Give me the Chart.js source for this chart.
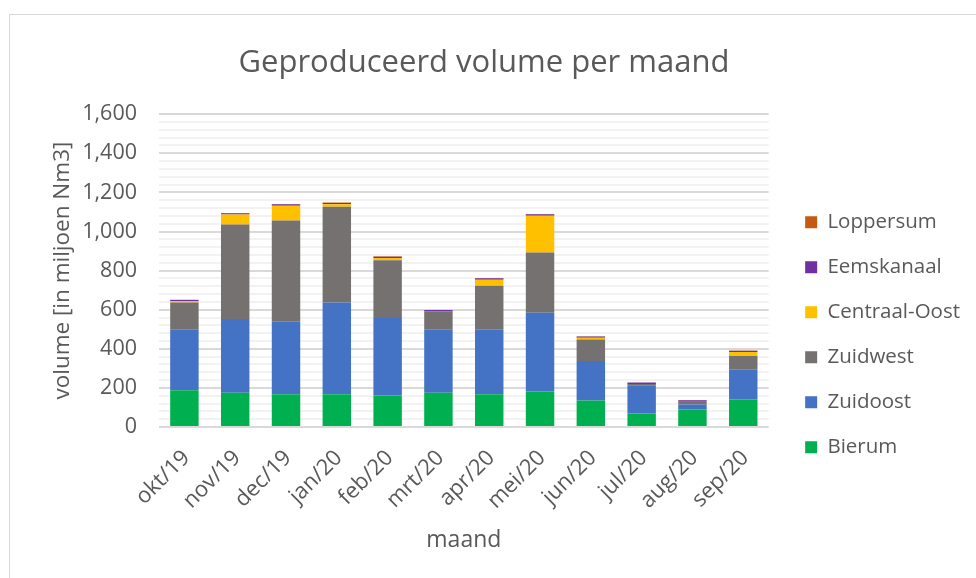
<!DOCTYPE html>
<html>
<head>
<meta charset="utf-8">
<script src="https://cdn.jsdelivr.net/npm/chart.js@4.4.1/dist/chart.umd.min.js"></script>
<style>
  html, body { margin: 0; padding: 0; background: #fff; overflow: hidden; width: 976px; height: 578px; }
  #frame { position: absolute; left: 9px; top: 14px; width: 990px; height: 600px; border: 1px solid #d9d9d9; background: #fff; }
  #wrap { position: absolute; left: 0; top: 0; width: 966px; height: 563px; }
</style>
</head>
<body>
<div id="frame"><div id="wrap"><canvas id="c" width="966" height="563"></canvas></div></div>
<script>
const categories = ['okt/19','nov/19','dec/19','jan/20','feb/20','mrt/20','apr/20','mei/20','jun/20','jul/20','aug/20','sep/20'];
const bierum       = [188, 175, 168, 168, 161, 175, 168, 181, 136,  69,  90, 141];
const zuidoost     = [310, 378, 371, 469, 397, 323, 330, 404, 201, 145,  25, 152];
const zuidwest     = [139, 483, 517, 490, 295,  94, 224, 308, 110,   6,  14,  70];
const centraalOost = [  7,  51,  76,  12,  11,   0,  31, 188,   9,   0,   0,  20];
const eemskanaal   = [  5,   6,   7,   7,   7,   6,   8,   7,   7,   7,   8,   7];
const loppersum    = [  2,   2,   2,   2,   2,   1,   1,   2,   1,   1,   1,   1];
const yMin = 0, yMax = 1600, yStep = 40, yLabelStep = 200;

const txt = '#595959';
const fam = "'Open Sans', sans-serif";

const mk = (label, data, color) => ({ label, data, backgroundColor: color, borderWidth: 0, barPercentage: 0.56, categoryPercentage: 1.0 });

const legendShift = {
  id: 'legendShift',
  afterLayout(chart) {
    const lg = chart.legend;
    if (lg) { lg.left += 12; lg.right += 12; }
  }
};

new Chart(document.getElementById('c'), {
  type: 'bar',
  data: {
    labels: categories,
    datasets: [
      mk('Bierum', bierum, '#00b050'),
      mk('Zuidoost', zuidoost, '#4472c4'),
      mk('Zuidwest', zuidwest, '#767171'),
      mk('Centraal-Oost', centraalOost, '#ffc000'),
      mk('Eemskanaal', eemskanaal, '#7030a0'),
      mk('Loppersum', loppersum, '#c55a11')
    ]
  },
  plugins: [legendShift],
  options: {
    responsive: false,
    animation: false,
    devicePixelRatio: 1,
    layout: { padding: { left: 0, right: 18, top: 0, bottom: 0 } },
    plugins: {
      tooltip: { enabled: false },
      title: {
        display: true,
        text: 'Geproduceerd volume per maand',
        color: txt,
        font: { family: fam, size: 31, weight: 'normal' },
        padding: { top: 30, bottom: 32 }
      },
      legend: {
        position: 'right',
        reverse: true,
        align: 'center',
        title: { display: true, text: '', padding: 31 },
        labels: {
          boxWidth: 12, boxHeight: 12, padding: 24.5,
          color: txt,
          font: { family: fam, size: 20.5 }
        }
      }
    },
    scales: {
      x: {
        stacked: true,
        grid: { display: false },
        border: { display: false },
        ticks: { color: txt, font: { family: fam, size: 22 }, maxRotation: 45, minRotation: 45, padding: 10, labelOffset: 2, autoSkip: false },
        title: { display: true, text: 'maand', color: txt, font: { family: fam, size: 23 }, padding: { top: 0, bottom: 24 } },
        afterFit: s => { s.height = 151; }
      },
      y: {
        stacked: true,
        min: yMin, max: yMax,
        border: { display: false },
        grid: {
          drawTicks: false,
          color: c => (c.tick && c.tick.value % yLabelStep === 0) ? '#d9d9d9' : '#f2f2f2',
          lineWidth: 2
        },
        ticks: {
          stepSize: yStep, autoSkip: false, padding: 22,
          color: txt, font: { family: fam, size: 21.5 },
          callback: v => (v % yLabelStep === 0) ? v.toLocaleString('en-US') : ''
        },
        title: { display: true, text: 'volume [in miljoen Nm3]', color: txt, font: { family: fam, size: 22.5 }, padding: { top: 39.5, bottom: 0 } },
        afterFit: s => { s.width = 149; }
      }
    }
  }
});
</script>
</body>
</html>
